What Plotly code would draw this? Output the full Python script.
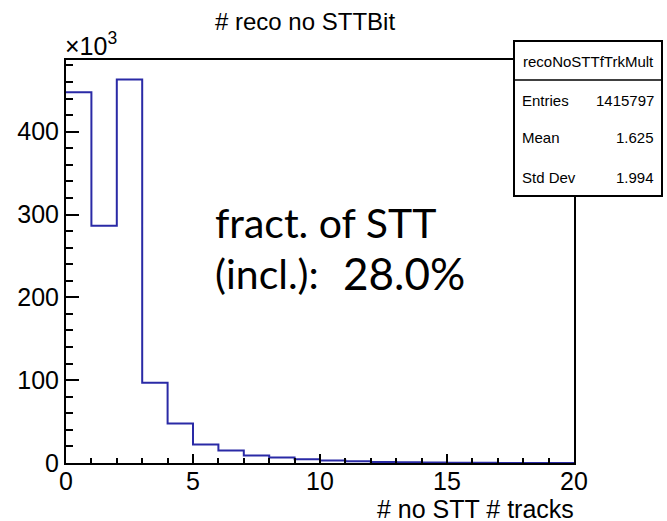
import plotly.graph_objects as go

# Histogram: number of reconstructed tracks without STT hits (20 unit-width bins)
bin_edges = list(range(0, 21))
bin_counts = [447600, 286400, 463000, 97000, 47600, 22200, 15000, 9000, 6500, 4500,
              2900, 2000, 1200, 800, 500, 350, 200, 120, 80, 50]

y_tick_vals = [0, 100000, 200000, 300000, 400000]
y_tick_text = ["0", "100", "200", "300", "400"]
x_tick_vals = [0, 5, 10, 15, 20]
x_tick_text = ["0", "5", "10", "15", "20"]

stats_name = "recoNoSTTfTrkMult"
stats_labels = ["Entries", "Mean", "Std Dev"]
stats_values = ["1415797", "1.625", "1.994"]

W, H = 667, 521
L, R, T, B = 66, 93, 60, 58
PW, PH = W - L - R, H - T - B


def px(xp):
    return (xp - L) / PW


def py(yp):
    return (H - B - yp) / PH


fig = go.Figure()
fig.add_trace(go.Scatter(
    x=bin_edges,
    y=bin_counts + [bin_counts[-1]],
    mode="lines",
    line=dict(shape="hv", color="#2a2aa6", width=2),
    hoverinfo="skip",
    showlegend=False,
))

axis_font = dict(family="Liberation Sans, Arial, sans-serif", size=25, color="black")

fig.update_layout(
    width=W, height=H,
    margin=dict(l=L, r=R, t=T, b=B),
    paper_bgcolor="white", plot_bgcolor="white",
    font=dict(family="Liberation Sans, Arial, sans-serif", color="black"),
    xaxis=dict(
        range=[0, 20], showgrid=False, zeroline=False,
        showline=True, linecolor="black", linewidth=2, mirror=True,
        ticks="inside", ticklen=9, tickwidth=2, tickcolor="black",
        tickvals=x_tick_vals, ticktext=x_tick_text, tickfont=axis_font,
        ticklabelstandoff=-5,
        minor=dict(dtick=1, ticks="inside", ticklen=5, tickwidth=2, tickcolor="black"),
    ),
    yaxis=dict(
        range=[0, 486600], showgrid=False, zeroline=False,
        showline=True, linecolor="black", linewidth=2, mirror=True,
        ticks="inside", ticklen=13, tickwidth=2, tickcolor="black",
        tickvals=y_tick_vals, ticktext=y_tick_text, tickfont=axis_font,
        minor=dict(dtick=20000, ticks="inside", ticklen=7, tickwidth=2, tickcolor="black"),
    ),
)

# statistics box (drawn over the frame corner)
bx0, bx1, by0, by1, bdiv = 514, 662, 41, 196, 80
fig.add_shape(type="rect", xref="paper", yref="paper",
              x0=px(bx0), x1=px(bx1), y0=py(by1), y1=py(by0),
              fillcolor="white", line=dict(color="black", width=2), layer="above")
fig.add_shape(type="line", xref="paper", yref="paper",
              x0=px(bx0), x1=px(bx1), y0=py(bdiv), y1=py(bdiv),
              line=dict(color="black", width=1.5), layer="above")

ann = []
ann.append(dict(text=stats_name, x=px((bx0 + bx1) / 2), y=py(61), xanchor="center", yanchor="middle",
                font=dict(size=15)))
for lab, val, yp in zip(stats_labels, stats_values, [100, 137, 177]):
    ann.append(dict(text=lab, x=px(520), y=py(yp), xanchor="left", yanchor="middle", font=dict(size=15)))
    ann.append(dict(text=val, x=px(656), y=py(yp), xanchor="right", yanchor="middle", font=dict(size=15)))

# title, exponent label and axis title
ann.append(dict(text="# reco no STTBit", x=px(305), y=py(21), xanchor="center", yanchor="middle",
                font=dict(size=24)))
ann.append(dict(text="×10<sup>3</sup>", x=px(63), y=py(44), xanchor="left", yanchor="middle",
                font=dict(size=25)))
ann.append(dict(text="# no STT # tracks", x=px(576), y=py(509), xanchor="right", yanchor="middle",
                font=dict(size=25)))

# in-plot note
note_font = dict(family="Lato, Open Sans, sans-serif", size=41, color="black")
ann.append(dict(text="fract. of STT", x=px(213), y=py(222), xanchor="left", yanchor="middle", font=note_font))
ann.append(dict(text="(incl.):", x=px(213), y=py(273), xanchor="left", yanchor="middle", font=note_font))
ann.append(dict(text="28.0%", x=px(341), y=py(273), xanchor="left", yanchor="middle",
                font=dict(family="Lato, Open Sans, sans-serif", size=44, color="black")))

for a in ann:
    a.update(xref="paper", yref="paper", showarrow=False)
fig.update_layout(annotations=ann)

fig.write_html("out.html")
